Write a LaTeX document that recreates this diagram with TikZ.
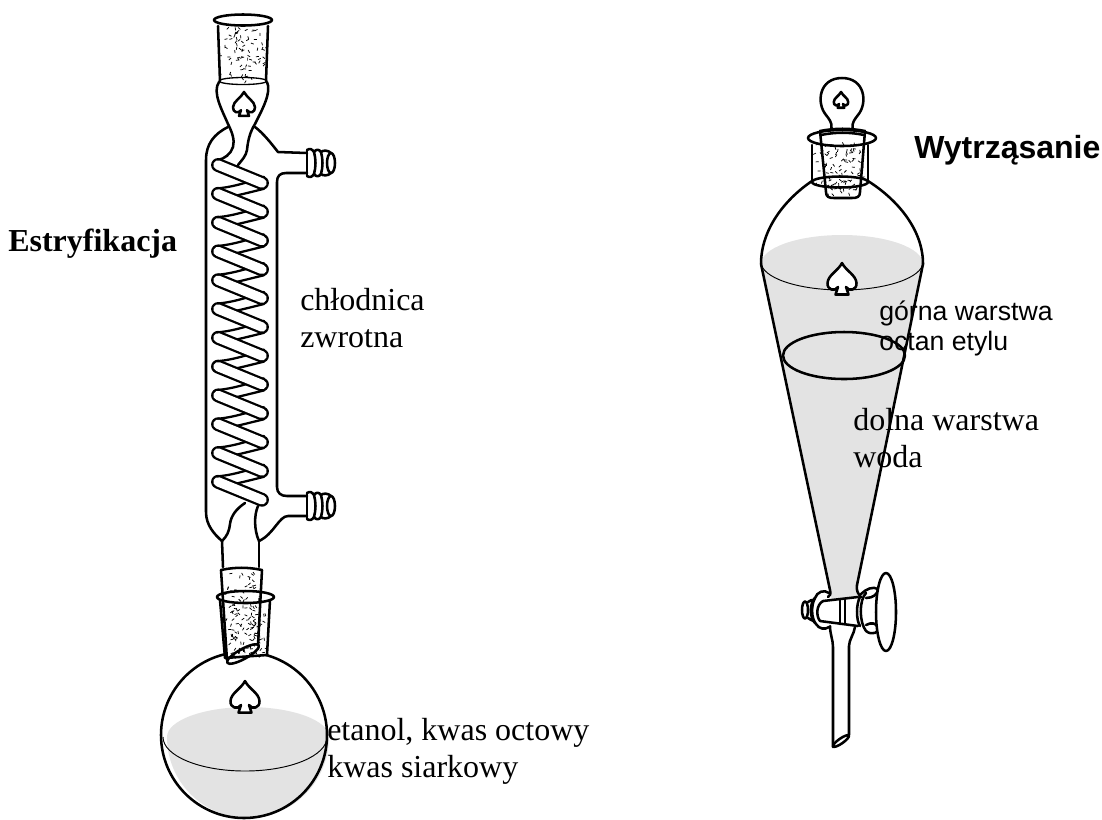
\documentclass[tikz,border=0pt]{standalone}
\usepackage{fontspec}
\setmainfont{Liberation Serif}
\setsansfont{Liberation Sans}
\usepackage{xcolor}
\definecolor{liquid}{HTML}{E3E3E3}
\newcommand{\speckles}[5]{%
\foreach \k in {1,...,#5}{
\pgfmathsetmacro{\sx}{#1+#3*rnd}
\pgfmathsetmacro{\sy}{#2+#4*rnd}
\pgfmathsetmacro{\sa}{180*rnd}
\draw[speck] (\sx,\sy) -- ++(\sa:3);
}}
\tikzset{
glass/.style={line width=1.9pt,line join=round,line cap=round},
thinglass/.style={line width=0.7pt},
speck/.style={line width=0.55pt},
serifl/.style={inner sep=0pt,anchor=north west,align=left,font=\fontsize{24}{27.5}\selectfont},
sansl/.style={inner sep=0pt,anchor=north west,align=left,font=\sffamily\fontsize{20}{22}\selectfont},
spademark/.pic={
\draw[glass,fill=white] (0,0) .. controls (-4,8) and (-14,12) .. (-14.5,20)
.. controls (-15,27) and (-7,29) .. (-4,24) -- (-6.5,31.5) -- (6.5,31.5) -- (4,24)
.. controls (7,29) and (15,27) .. (14.5,20)
.. controls (14,12) and (4,8) .. (0,0) -- cycle;
},
hosebarb/.pic={
\draw[glass] (0,-13) .. controls (3,-15) and (5,-14) .. (7,-11) .. controls (9,-14) and (12,-14) .. (14,-11)
.. controls (16,-13) and (21,-13) .. (24,-10);
\draw[glass] (0,13) .. controls (3,15) and (5,14) .. (7,11) .. controls (9,14) and (12,14) .. (14,11)
.. controls (16,13) and (21,13) .. (24,10);
\draw[glass] (0,-13) -- (0,13);
\draw[glass] (7,-11) .. controls (9,-4) and (9,4) .. (7,11);
\draw[glass] (14,-11) .. controls (16,-4) and (16,4) .. (14,11);
\draw[glass] (24,0) circle[x radius=4,y radius=10];
}
}
\begin{document}
\begin{tikzpicture}[x=0.75pt,y=-0.75pt]
\useasboundingbox (0,0) rectangle (1102,819);
\pgfmathsetseed{4217}
% liquids
\fill[liquid] (167,737) arc[start angle=180,end angle=360,x radius=81,y radius=30]
arc[start angle=0,end angle=180,radius=81] -- cycle;
\fill[liquid] (761,264) arc[start angle=180,end angle=360,x radius=81,y radius=29]
-- (857,590) -- (860,596) -- (832,600) -- (829,590) -- cycle;
% condenser
\draw[glass] (218,26) -- (220,81);
\draw[glass] (268,26) -- (266,81);
\draw[glass] (243,20) circle[x radius=29,y radius=5.5];
\draw[thinglass,line width=1pt] (219,81) arc[start angle=180,end angle=360,x radius=24,y radius=-3.5];
\draw[thinglass,line width=1pt] (219,81) arc[start angle=180,end angle=360,x radius=24,y radius=3.5];
\speckles{220}{26}{46}{56}{75}
\draw[glass] (219,82) .. controls (212,92) and (222,110) .. (228,124)
.. controls (232,132) and (235,140) .. (233,147) .. controls (231,154) and (224,159) .. (218,160);
\draw[glass] (267,82) .. controls (272,92) and (262,110) .. (255,124)
.. controls (250,132) and (248,140) .. (247,150) .. controls (246,156) and (242,160) .. (238,165);
\draw[glass] (228,127) .. controls (214,134) and (206,144) .. (206,160) -- (206,512)
.. controls (206,525) and (214,534) .. (222,541);
\draw[glass] (255,127) .. controls (263,133) and (271,143) .. (278,152) -- (307,153);
\draw[glass] (307,173) -- (286,173) .. controls (280,173) and (277,176) .. (277,182) -- (277,487)
.. controls (277,493) and (281,496) .. (287,496) -- (307,496);
\draw[glass] (307,516) -- (288,516) .. controls (279,516) and (274,534) .. (259,541);
\draw[glass] (245,503) .. controls (236,509) and (231,516) .. (230,524) .. controls (229,532) and (227,536) .. (222,541);
\draw[glass] (258,506) .. controls (254,515) and (254,530) .. (259,541);
\draw[glass] (222,541) -- (223,567);
\draw[glass] (259,541) -- (259,567);
\pic at (307,163) {hosebarb};
\pic at (307,506) {hosebarb};
% coil
\foreach \i in {0,...,10}{
\pgfmathsetmacro{\yb}{165+28.8*(\i+1)}
\draw[glass,line width=1.7pt] (218,\yb-5.5) .. controls (235,\yb-7) and (252,\yb-13) .. (264,\yb-17);
\draw[glass,line width=1.7pt] (222,\yb+5) .. controls (236,\yb+2) and (252,\yb-2) .. (264,\yb-5);
}
\foreach \i in {0,...,11}{
\pgfmathsetmacro{\ya}{165+28.8*\i}
\draw[line width=10.4pt,line cap=round] (218,\ya) -- (262,\ya+18);
\draw[line width=7pt,line cap=round,white] (218,\ya) -- (262,\ya+18);
}
\pic[scale=0.76] at (244,92) {spademark};
% flask
\draw[glass] (244,735) circle[radius=83];
\draw[thinglass] (163,737) arc[start angle=180,end angle=360,x radius=82,y radius=-34];
% joint
\fill[white] (220,600) -- (225,658) -- (267,655) -- (270,600) -- cycle;
\speckles{224}{572}{36}{28}{30}
\speckles{227}{604}{38}{52}{110}
\draw[glass] (221,570) .. controls (235,567) and (248,567) .. (262,570);
\draw[glass] (221,570) -- (227,660);
\draw[glass] (262,570) -- (258,645);
\draw[glass] (245.5,597) circle[x radius=28.5,y radius=6];
\draw[glass] (220,600) -- (225,658) -- (267,655) -- (270,600);
\draw[glass,rotate around={29:(243,654)}] (243,654) circle[x radius=18,y radius=5];
\pic[scale=1] at (245,681) {spademark};
% funnel
\draw[glass] (761,264) -- (830,590) .. controls (831,594) and (830,596) .. (828,597);
\draw[glass] (923,264) -- (857,585) .. controls (856,590) and (858,594) .. (861,597);
\draw[glass] (812,181) .. controls (784,200) and (761,230) .. (761,264);
\draw[glass] (868,181) .. controls (898,200) and (923,230) .. (923,264);
\draw[thinglass] (761,262) arc[start angle=180,end angle=360,x radius=81,y radius=-28];
\draw[glass] (844,355.5) circle[x radius=61,y radius=23.5];
\pic[scale=1] at (842,263) {spademark};
% stopper
\speckles{815}{142}{50}{42}{75}
\speckles{828}{182}{30}{12}{18}
\draw[glass] (812,145) -- (812,181);
\draw[glass] (868,145) -- (868,181);
\draw[glass] (840,182) circle[x radius=28,y radius=5.5];
\draw[glass] (842,138) circle[x radius=34,y radius=8];
\draw[glass] (820,131) -- (826,192) .. controls (826,197) and (829,198) .. (834,198) -- (852,198)
.. controls (857,198) and (860,197) .. (860,192) -- (865,131);
\draw[glass] (820,131) .. controls (835,128) and (850,128) .. (865,131);
\draw[glass] (821,135) .. controls (835,132) and (850,132) .. (864,135);
\draw[glass] (831.5,128) .. controls (832,122) and (829,119) .. (826,115)
.. controls (816,103) and (819,78) .. (842,78) .. controls (865,78) and (868,103) .. (858,115)
.. controls (855,119) and (852,122) .. (852.5,128);
\pic[scale=0.5] at (841,92) {spademark};
% stopcock
\draw[glass] (823,601) -- (858,597);
\draw[glass] (820,621) -- (858,626);
\draw[glass] (840,600) -- (840,624);
\draw[glass] (845,599) -- (845,624);
\draw[glass] (823,601) .. controls (816,605) and (816,616) .. (820,621);
\draw[glass] (829,593) .. controls (824,589) and (817,592) .. (815,598) .. controls (811,605) and (811,618) .. (816,624)
.. controls (819,629) and (825,630) .. (829,627);
\draw[glass] (815,598) .. controls (810,601) and (809,618) .. (815,623);
\draw[glass] (805,610) circle[x radius=3,y radius=8.5];
\draw[glass] (808,602) .. controls (810,600) and (812,600) .. (814,600);
\draw[glass] (808,618) .. controls (810,620) and (812,620) .. (814,621);
\draw[glass] (860,597) .. controls (856,604) and (856,620) .. (860,626);
\draw[glass] (866,593) .. controls (859,600) and (859,622) .. (866,631);
\draw[glass] (861,594) .. controls (866,589) and (873,586) .. (878,589) .. controls (878,594) and (873,598) .. (866,598);
\draw[glass] (866,625) .. controls (871,622) and (877,623) .. (878,628) .. controls (880,632) and (872,636) .. (866,631);
\draw[glass,fill=white] (886,612) circle[x radius=10,y radius=39];
\draw[glass] (830,626) .. controls (830,634) and (833,640) .. (833,647) -- (833,747);
\draw[glass] (855,627) .. controls (854,634) and (849,640) .. (849,646) -- (849,735);
\draw[glass,rotate around={35:(841,741)}] (841,741) circle[x radius=9.5,y radius=2.5];
% labels
\node[serifl,font=\bfseries\fontsize{24}{27}\selectfont] (est) at (8,229) {Estryfikacja};
\node[serifl] (chlod) at (300,288.5) {chłodnica\\zwrotna};
\node[serifl] (subst) at (327,718) {etanol, kwas octowy\\kwas siarkowy};
\node[serifl] (dolna) at (853,408) {dolna warstwa\\woda};
\node[sansl] (gorna) at (879,301) {górna warstwa\\octan etylu};
\node[sansl,font=\sffamily\bfseries\fontsize{24}{27}\selectfont] (wytrz) at (914,135) {Wytrząsanie};
\end{tikzpicture}
\end{document}
